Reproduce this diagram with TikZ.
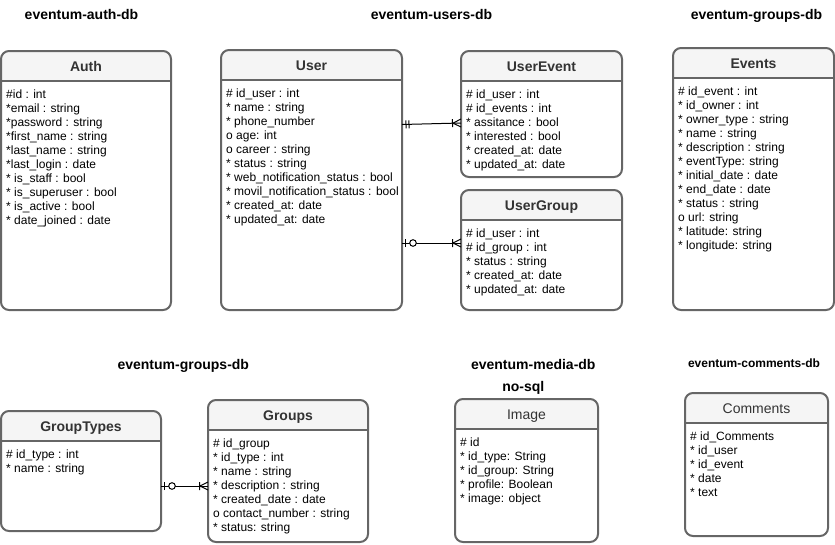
\documentclass[tikz,border=0pt]{standalone}
\usepackage{fontspec}
\setmainfont{Liberation Sans}
\usetikzlibrary{decorations.markings}

\definecolor{boxline}{HTML}{666666}
\definecolor{headfill}{HTML}{F5F5F5}
\definecolor{headtext}{HTML}{333333}

% #1 name, #2 top left corner, #3 width, #4 height, #5 title, #6 fields
\newcommand{\erentity}[6]{%
  \node[entity box, minimum width=#3, minimum height=#4] (#1) at (#2) {};
  \begin{scope}
    \clip[rounded corners=8pt] (#1.north west) rectangle (#1.south east);
    \fill[headfill] (#1.north west) rectangle ([yshift=-30pt]#1.north east);
  \end{scope}
  \draw[entity line, rounded corners=8pt] (#1.north west) rectangle (#1.south east);
  \draw[entity line] ([yshift=-30pt]#1.north west) -- ([yshift=-30pt]#1.north east);
  \node[entity head] (#1-head) at ([yshift=-20.5pt]#1.north) {#5};
  \node[entity fields] (#1-fields) at ([xshift=5pt,yshift=-38.5pt]#1.north west) {#6};
}

\begin{document}
\begin{tikzpicture}[x=1pt, y=-1pt,
    entity box/.style={rectangle, fill=white, rounded corners=8pt, inner sep=0pt, outer sep=0pt, anchor=north west},
    entity line/.style={draw=boxline, line width=2pt},
    entity head/.style={anchor=base, font=\fontsize{14}{16}\selectfont\bfseries, text=headtext, inner sep=0pt},
    entity fields/.style={anchor=north west, align=left, font=\fontsize{12}{14}\selectfont, inner sep=0pt},
    db title/.style={anchor=base, font=\fontsize{14}{16}\selectfont\bfseries, inner sep=0pt},
    rel/.style={draw=black, line width=1pt},
    mand one/.style={postaction={decorate, decoration={markings, mark=at position 0 with
      {\draw[line width=1pt] (4pt,-4pt) -- (4pt,4pt) (7pt,-4pt) -- (7pt,4pt);}}}},
    opt one/.style={postaction={decorate, decoration={markings, mark=at position 0 with
      {\draw[line width=1pt] (3.5pt,-4pt) -- (3.5pt,4pt); \draw[line width=1pt, fill=white] (11pt,0pt) circle (3.3pt);}}}},
    one many/.style={postaction={decorate, decoration={markings, mark=at position 1 with
      {\draw[line width=1pt] (-8.5pt,-4pt) -- (-8.5pt,4pt) (0pt,-4pt) -- (-8pt,0pt) -- (0pt,4pt);}}}}]

  \useasboundingbox (0,0) rectangle (835,544);

  % database titles
  \node[db title] (t-auth) at (81.5,19) {eventum-auth-db};
  \node[db title] (t-users) at (431.5,19) {eventum-users-db};
  \node[db title] (t-events) at (756.5,19) {eventum-groups-db};
  \node[db title] (t-groups) at (183.3,369) {eventum-groups-db};
  \node[db title] (t-media) at (533.3,369.5) {eventum-media-db};
  \node[db title] (t-nosql) at (523.3,391) {no-sql};
  \node[db title, font=\fontsize{12}{14}\selectfont\bfseries] (t-comments) at (754,367.5) {eventum-comments-db};

  % tables
  \erentity{auth}{1,51}{170pt}{259pt}{Auth}{\#id : int\\*email : string\\*password : string\\*first\_name : string\\*last\_name : string\\*last\_login : date\\* is\_staff : bool\\* is\_superuser : bool\\* is\_active : bool\\* date\_joined : date}
  \erentity{user}{221,50}{181pt}{260pt}{User}{\# id\_user : int\\* name : string\\* phone\_number\\o age: int\\o career : string\\* status : string\\* web\_notification\_status : bool\\* movil\_notification\_status : bool\\* created\_at: date\\* updated\_at: date}
  \erentity{userevent}{461,51}{161pt}{126pt}{UserEvent}{\# id\_user : int\\\# id\_events : int\\* assitance : bool\\* interested : bool\\* created\_at: date\\* updated\_at: date}
  \erentity{usergroup}{461,190}{161pt}{120pt}{UserGroup}{\# id\_user : int\\\# id\_group : int\\* status : string\\* created\_at: date\\* updated\_at: date}
  \erentity{events}{673,48}{161pt}{262pt}{Events}{\# id\_event : int\\* id\_owner : int\\* owner\_type : string\\* name : string\\* description : string\\* eventType: string\\* initial\_date : date\\* end\_date : date\\* status : string\\o url: string\\* latitude: string\\* longitude: string}
  \erentity{grouptypes}{1,411}{160pt}{120pt}{GroupTypes}{\# id\_type : int\\* name : string}
  \erentity{groups}{208,400}{160pt}{142pt}{Groups}{\# id\_group\\* id\_type : int\\* name : string\\* description : string\\* created\_date : date\\o contact\_number : string\\* status: string}
  \erentity{image}{455,399}{143pt}{143pt}{\mdseries Image}{\# id\\* id\_type: String\\* id\_group: String\\* profile: Boolean\\* image: object}
  \erentity{comments}{685,393}{143pt}{143pt}{\mdseries Comments}{\# id\_Comments\\* id\_user\\* id\_event\\* date\\* text}

  % relations
  \draw[rel, mand one, one many] ([yshift=-74.5pt]user.north east) -- ([yshift=-72pt]userevent.north west);
  \draw[rel, opt one, one many] ([yshift=-193pt]user.north east) -- ([yshift=-53pt]usergroup.north west);
  \draw[rel, opt one, one many] ([yshift=-75pt]grouptypes.north east) -- ([yshift=-86pt]groups.north west);
\end{tikzpicture}
\end{document}
